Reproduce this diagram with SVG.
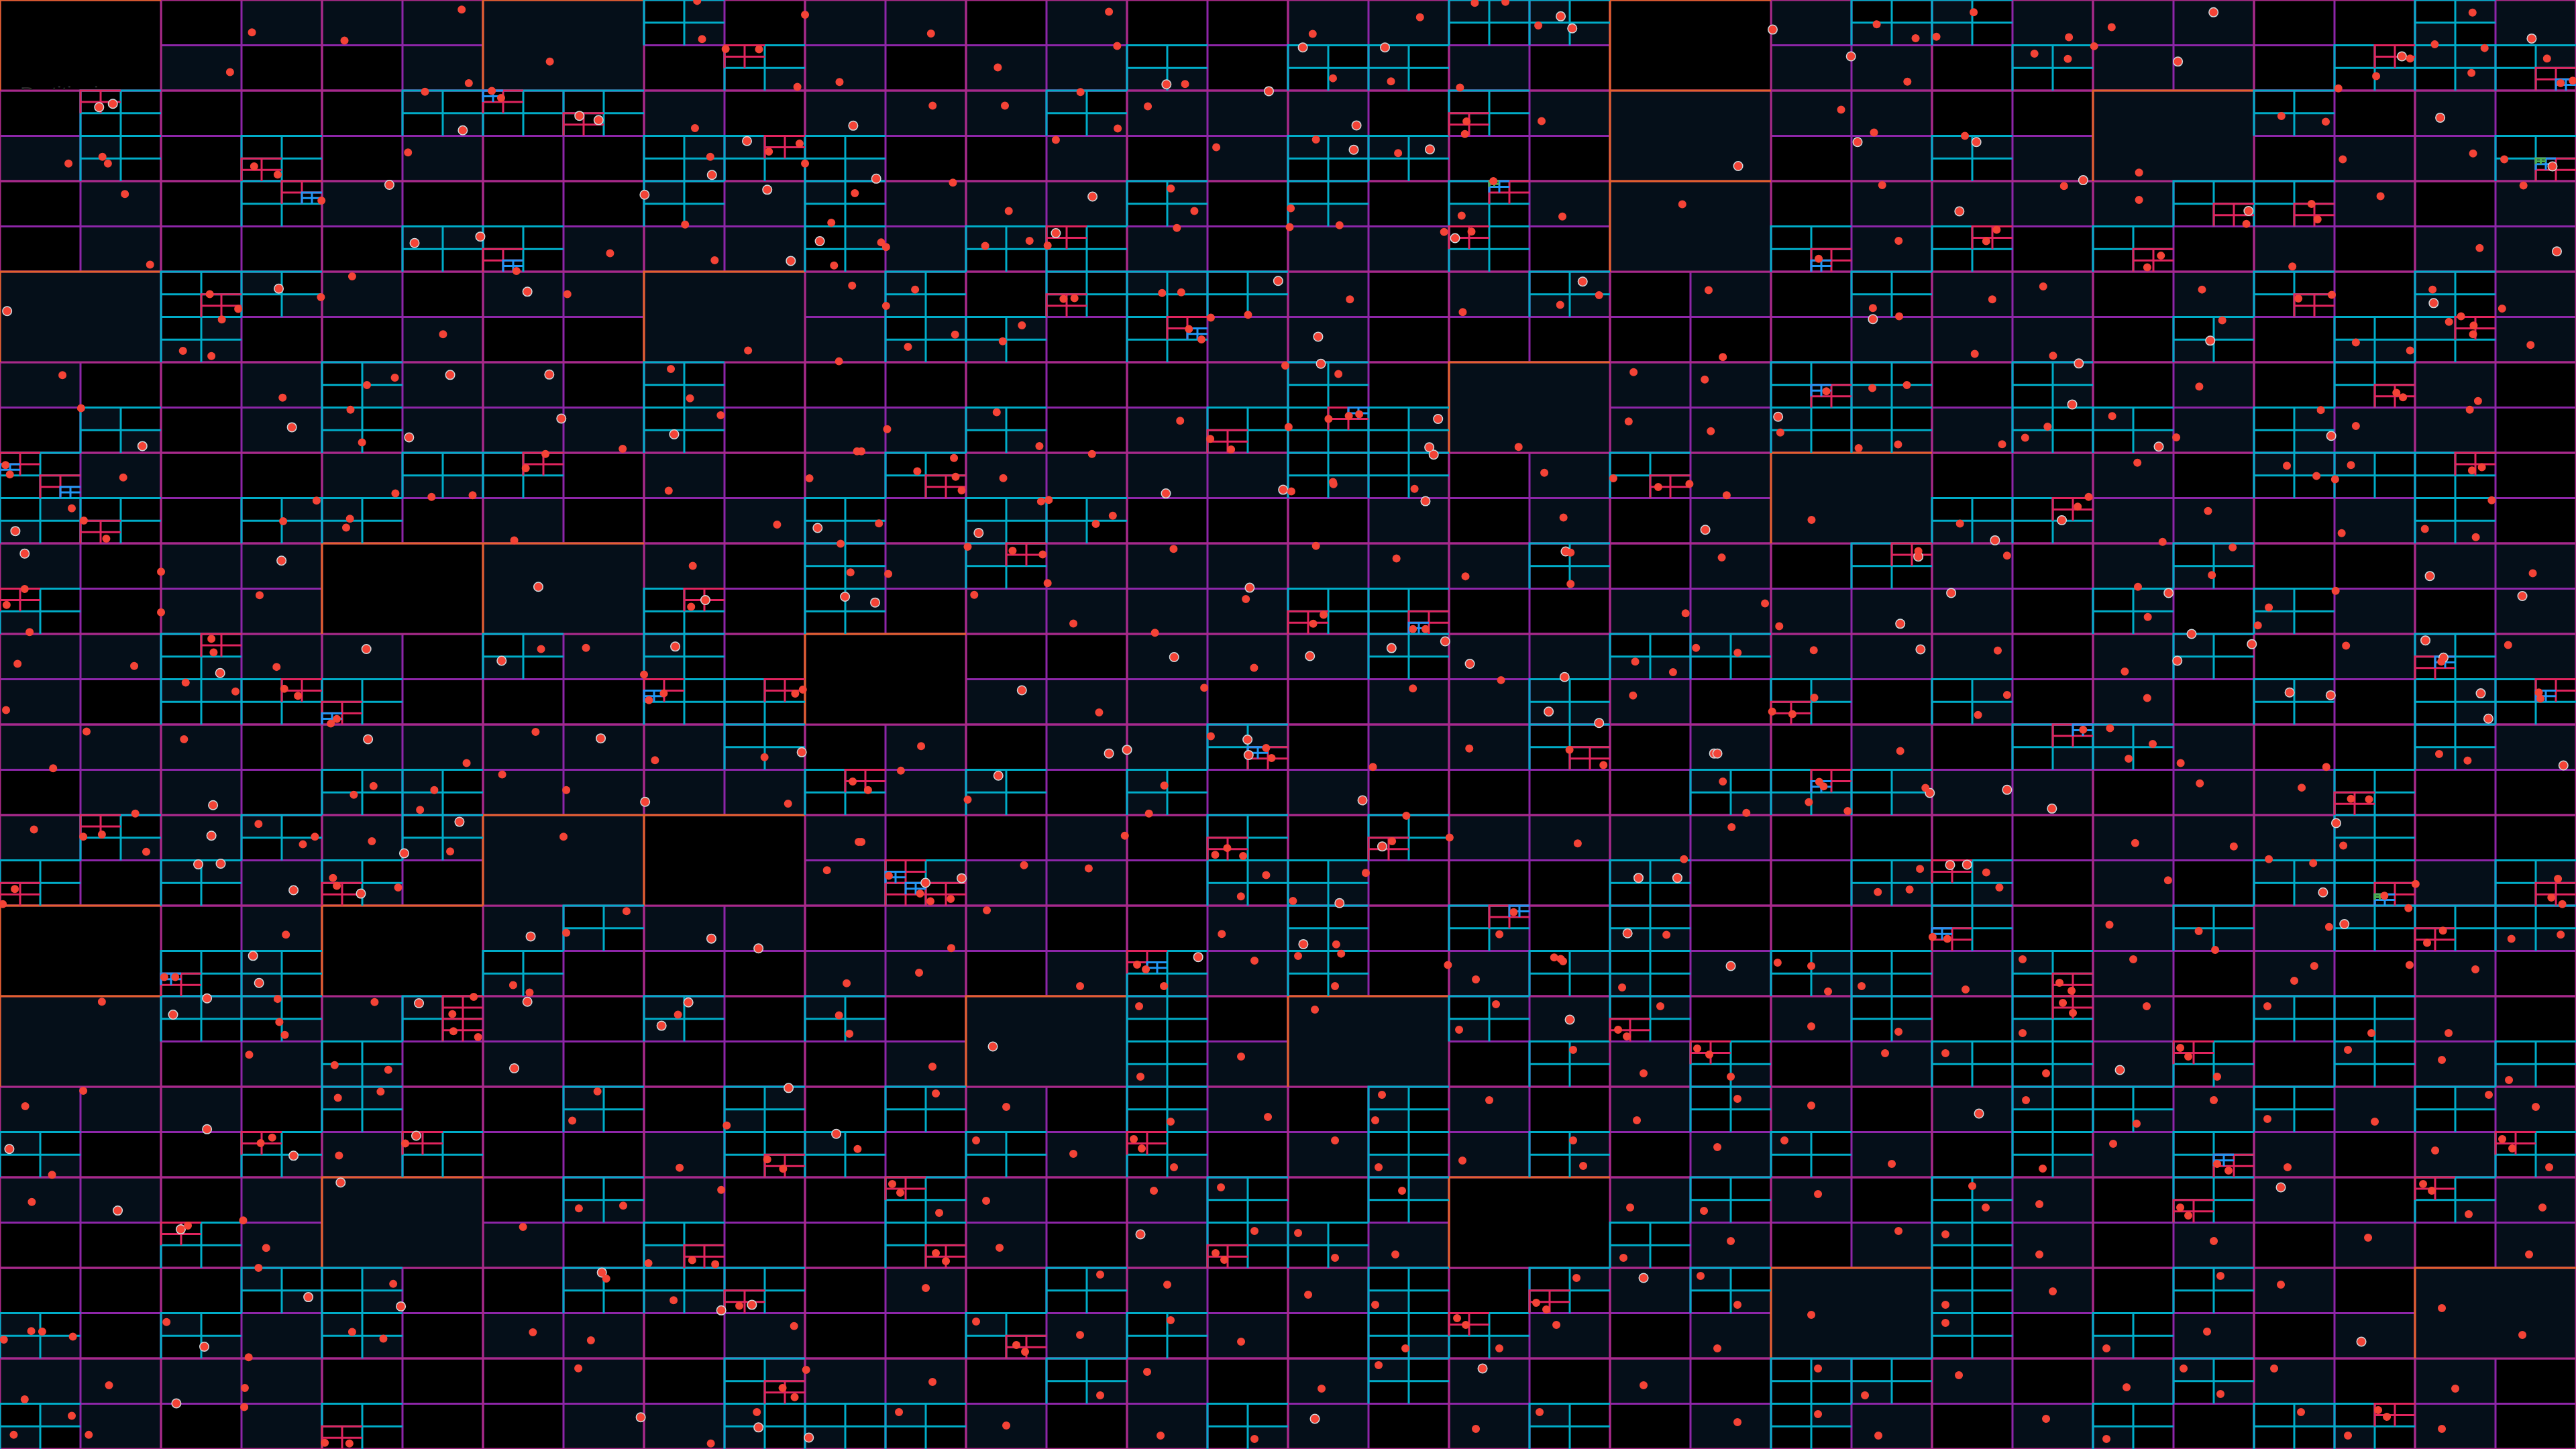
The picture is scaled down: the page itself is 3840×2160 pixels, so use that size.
<svg xmlns="http://www.w3.org/2000/svg" width="3840" height="2160" viewBox="0 0 3840 2160">
<defs>
<style>
.nv{fill:#050f19;stroke:none}
.bk{fill:#000;stroke:none}
.ln{fill:none;stroke-width:3;vector-effect:non-scaling-stroke}
.l2{stroke:#8d26a8}
.l1{stroke:#a92a87}
.lo{stroke:#e2612c}
.l3{stroke:#00acc8}
.l4{stroke:#e0245e}
.l5{stroke:#2196f3}
.l6{stroke:#4caf50}
.d{fill:none;stroke:#f44336;stroke-width:12;stroke-linecap:round;vector-effect:non-scaling-stroke}
.w{fill:none;stroke:#cfd8dc;stroke-width:15;stroke-linecap:round;vector-effect:non-scaling-stroke}
</style>
<clipPath id="tc"><rect x="0" y="0" width="300" height="134"/></clipPath>
</defs>
<rect width="3840" height="2160" fill="#000"/>
<g id="quadtree" transform="scale(120 67.5)">
<path id="leaf-fill" class="nv" d="M3 0h3v1h-3zM10 0h2v1h-2zM13 0h1v1h-1zM16 0h2v1h-2zM22 0h1v1h-1zM25 0h3v1h-3zM31 0h1v1h-1zM2 1h1v1h-1zM5 1h1v1h-1zM10 1h1v1h-1zM12 1h2v1h-2zM18 1h1v1h-1zM22 1h2v1h-2zM26 1h2v1h-2zM8 2h1v1h-1zM10 2h3v1h-3zM14 2h3v1h-3zM19 2h1v1h-1zM22 2h2v1h-2zM30 2h1v1h-1zM0 3h1v1h-1zM5 3h1v1h-1zM13 3h1v1h-1zM15 3h1v1h-1zM23 3h1v1h-1zM25 3h1v1h-1zM29 3h2v1h-2zM1 4h1v1h-1zM4 4h1v1h-1zM9 4h1v1h-1zM11 4h3v1h-3zM19 4h1v1h-1zM23 4h4v1h-4zM29 4h1v1h-1zM31 4h1v1h-1zM1 5h1v1h-1zM7 5h3v1h-3zM11 5h1v1h-1zM14 5h1v1h-1zM16 5h2v1h-2zM23 5h1v1h-1zM28 5h1v1h-1zM30 5h2v1h-2zM4 6h1v1h-1zM6 6h2v1h-2zM10 6h1v1h-1zM16 6h1v1h-1zM18 6h1v1h-1zM21 6h1v1h-1zM24 6h2v1h-2zM27 6h1v1h-1zM31 6h1v1h-1zM5 7h1v1h-1zM10 7h1v1h-1zM15 7h2v1h-2zM23 7h3v1h-3zM31 7h1v1h-1zM0 8h1v1h-1zM3 8h1v1h-1zM5 8h2v1h-2zM15 8h1v1h-1zM20 8h2v1h-2zM27 8h1v1h-1zM30 8h1v1h-1zM3 9h1v1h-1zM5 9h3v1h-3zM10 9h2v1h-2zM14 9h1v1h-1zM20 9h2v1h-2zM24 9h1v1h-1zM27 9h1v1h-1zM29 9h2v1h-2zM1 10h1v1h-1zM4 10h1v1h-1zM8 10h1v1h-1zM10 10h1v1h-1zM12 10h4v1h-4zM19 10h1v1h-1zM21 10h1v1h-1zM25 10h2v1h-2zM6 11h1v1h-1zM9 11h1v1h-1zM17 11h1v1h-1zM19 11h1v1h-1zM21 11h1v1h-1zM26 11h2v1h-2zM29 11h1v1h-1zM0 12h1v1h-1zM2 12h2v1h-2zM8 12h1v1h-1zM11 12h1v1h-1zM13 12h6v1h-6zM21 12h1v1h-1zM24 12h1v1h-1zM26 12h1v1h-1zM30 12h2v1h-2zM2 13h2v1h-2zM12 13h4v1h-4zM20 13h5v1h-5zM29 13h1v1h-1zM31 13h1v1h-1zM0 14h2v1h-2zM3 14h2v1h-2zM7 14h1v1h-1zM14 14h3v1h-3zM18 14h2v1h-2zM22 14h3v1h-3zM26 14h1v1h-1zM29 14h1v1h-1zM31 14h1v1h-1zM0 15h1v1h-1zM12 15h3v1h-3zM17 15h2v1h-2zM20 15h1v1h-1zM26 15h1v1h-1zM0 16h3v1h-3zM4 16h5v1h-5zM11 16h1v1h-1zM13 16h2v1h-2zM17 16h2v1h-2zM21 16h1v1h-1zM23 16h1v1h-1zM27 16h1v1h-1zM31 16h1v1h-1zM1 17h2v1h-2zM6 17h4v1h-4zM11 17h1v1h-1zM16 17h1v1h-1zM24 17h2v1h-2zM27 17h2v1h-2zM0 18h1v1h-1zM2 18h1v1h-1zM4 18h1v1h-1zM10 18h1v1h-1zM13 18h1v1h-1zM18 18h4v1h-4zM26 18h3v1h-3zM3 19h1v1h-1zM10 19h1v1h-1zM12 19h2v1h-2zM26 19h1v1h-1zM30 19h1v1h-1zM3 20h1v1h-1zM6 20h1v1h-1zM8 20h2v1h-2zM11 20h2v1h-2zM15 20h1v1h-1zM26 20h1v1h-1zM28 20h1v1h-1zM10 21h1v1h-1zM4 22h1v1h-1zM6 22h1v1h-1zM3 23h1v1h-1zM6 23h1v1h-1zM0 24h3v1h-3zM4 25h1v1h-1zM8 25h1v1h-1zM0 26h2v1h-2zM3 26h1v1h-1zM8 26h1v1h-1zM3 27h1v1h-1zM6 27h1v1h-1zM3 29h1v1h-1zM6 29h2v1h-2zM9 29h1v1h-1zM0 30h4v1h-4zM7 30h1v1h-1zM10 30h1v1h-1zM1 31h1v1h-1zM3 31h1v1h-1zM7 31h2v1h-2zM11 21h1v1h-1zM13 21h1v1h-1zM15 21h1v1h-1zM18 21h1v1h-1zM21 21h1v1h-1zM24 21h1v1h-1zM26 21h1v1h-1zM28 21h1v1h-1zM30 21h1v1h-1zM19 22h1v1h-1zM22 22h1v1h-1zM26 22h1v1h-1zM30 22h1v1h-1zM11 23h1v1h-1zM15 23h1v1h-1zM20 23h1v1h-1zM23 23h1v1h-1zM26 23h1v1h-1zM30 23h1v1h-1zM12 24h1v1h-1zM15 24h1v1h-1zM18 24h1v1h-1zM20 24h1v1h-1zM22 24h1v1h-1zM24 24h1v1h-1zM27 24h1v1h-1zM29 24h1v1h-1zM31 24h1v1h-1zM13 25h1v1h-1zM16 25h1v1h-1zM18 25h1v1h-1zM21 25h1v1h-1zM23 25h1v1h-1zM26 25h1v1h-1zM28 25h1v1h-1zM30 25h1v1h-1zM12 26h1v1h-1zM14 26h1v1h-1zM20 26h1v1h-1zM22 26h1v1h-1zM25 26h1v1h-1zM28 26h1v1h-1zM31 26h1v1h-1zM12 27h1v1h-1zM14 27h1v1h-1zM17 27h1v1h-1zM21 27h1v1h-1zM23 27h1v1h-1zM25 27h1v1h-1zM27 27h1v1h-1zM29 27h1v1h-1zM31 27h1v1h-1zM11 28h1v1h-1zM14 28h1v1h-1zM16 28h1v1h-1zM20 28h1v1h-1zM25 28h1v1h-1zM28 28h1v1h-1zM13 29h1v1h-1zM15 29h1v1h-1zM19 29h1v1h-1zM21 29h1v1h-1zM27 29h1v1h-1zM29 29h1v1h-1zM11 30h1v1h-1zM14 30h1v1h-1zM16 30h1v1h-1zM18 30h1v1h-1zM20 30h1v1h-1zM24 30h1v1h-1zM26 30h1v1h-1zM28 30h1v1h-1zM30 30h1v1h-1zM12 31h1v1h-1zM14 31h1v1h-1zM16 31h1v1h-1zM18 31h1v1h-1zM21 31h1v1h-1zM23 31h1v1h-1zM25 31h1v1h-1zM30 31h1v1h-1z"/>
<path id="sub-fill" class="nv" d="M8.5 0h.5v.5h-.5zM8.5 .5h.5v.5h-.5zM18 0h.5v.5h-.5zM18.5 0h.5v.5h-.5zM19 0h.5v.5h-.5zM19 .5h.5v.5h-.5zM19.5 .5h.5v.5h-.5zM23 .5h.5v.5h-.5zM23.5 .5h.5v.5h-.5zM24 0h.5v.5h-.5zM24 .5h.5v.5h-.5zM30.5 0h.5v.5h-.5zM30 .5h.5v.5h-.5zM9.5 1.5h.5v.5h-.5zM14 1.5h.5v.5h-.5zM14.5 1.5h.5v.5h-.5zM16 1h.5v.5h-.5zM16.5 1.5h.5v.5h-.5zM17 1h.5v.5h-.5zM17 1.5h.5v.5h-.5zM25 1h.5v.5h-.5zM25.5 1h.5v.5h-.5zM29.5 1.5h.5v.5h-.5zM30 1h.5v.5h-.5zM30.5 1h.5v.5h-.5zM30.5 1.5h.5v.5h-.5zM31.5 1h.5v.5h-.5zM5 2h.5v.5h-.5zM5.5 2.5h.5v.5h-.5zM13 2h.5v.5h-.5zM13.5 2.5h.5v.5h-.5zM28 2.5h.5v.5h-.5zM28.5 2.5h.5v.5h-.5zM1 3h.5v.5h-.5zM1 3.5h.5v.5h-.5zM8.5 3h.5v.5h-.5zM8.5 3.5h.5v.5h-.5zM9 3h.5v.5h-.5zM10.5 3.5h.5v.5h-.5zM16 3h.5v.5h-.5zM16.5 3h.5v.5h-.5zM17 3h.5v.5h-.5zM17.5 3h.5v.5h-.5zM24 3h.5v.5h-.5zM24.5 3h.5v.5h-.5zM31 3.5h.5v.5h-.5zM8 4h.5v.5h-.5zM8.5 4.5h.5v.5h-.5zM10 4h.5v.5h-.5zM14.5 4h.5v.5h-.5zM14.5 4.5h.5v.5h-.5zM16 4.5h.5v.5h-.5zM16.5 4.5h.5v.5h-.5zM18 4.5h.5v.5h-.5zM5 5h.5v.5h-.5zM5.5 5h.5v.5h-.5zM10.5 5h.5v.5h-.5zM12 5h.5v.5h-.5zM12.5 5h.5v.5h-.5zM18 5.5h.5v.5h-.5zM3 6h.5v.5h-.5zM3.5 6.5h.5v.5h-.5zM11 6h.5v.5h-.5zM11 6.5h.5v.5h-.5zM14 6h.5v.5h-.5zM14.5 6h.5v.5h-.5zM15.5 6h.5v.5h-.5zM15.5 6.5h.5v.5h-.5zM19.5 6h.5v.5h-.5zM19 6.5h.5v.5h-.5zM19.5 6.5h.5v.5h-.5zM23 6.5h.5v.5h-.5zM30 6h.5v.5h-.5zM30 6.5h.5v.5h-.5zM2.5 7h.5v.5h-.5zM2 7.5h.5v.5h-.5zM2.5 7.5h.5v.5h-.5zM11.5 7h.5v.5h-.5zM11 7.5h.5v.5h-.5zM12.5 7h.5v.5h-.5zM12 7.5h.5v.5h-.5zM27.5 7h.5v.5h-.5zM27 7.5h.5v.5h-.5zM29 7.5h.5v.5h-.5zM29.5 7.5h.5v.5h-.5zM30 7h.5v.5h-.5zM4.5 8h.5v.5h-.5zM4.5 8.5h.5v.5h-.5zM8 8h.5v.5h-.5zM8.5 8.5h.5v.5h-.5zM16 8h.5v.5h-.5zM16.5 8h.5v.5h-.5zM23 8.5h.5v.5h-.5zM23.5 8.5h.5v.5h-.5zM25.5 8h.5v.5h-.5zM25.5 8.5h.5v.5h-.5zM1 9h.5v.5h-.5zM1.5 9.5h.5v.5h-.5zM4 9h.5v.5h-.5zM4 9.5h.5v.5h-.5zM8.5 9h.5v.5h-.5zM8 9.5h.5v.5h-.5zM12 9h.5v.5h-.5zM12.5 9.5h.5v.5h-.5zM17.5 9h.5v.5h-.5zM17.5 9.5h.5v.5h-.5zM22 9h.5v.5h-.5zM22 9.5h.5v.5h-.5zM23 9.5h.5v.5h-.5zM23.5 9.5h.5v.5h-.5zM25 9h.5v.5h-.5zM25 9.5h.5v.5h-.5zM26 9h.5v.5h-.5zM26.5 9.5h.5v.5h-.5zM28.5 9h.5v.5h-.5zM28.5 9.5h.5v.5h-.5zM5 10.5h.5v.5h-.5zM5.5 10.5h.5v.5h-.5zM16.5 10.5h.5v.5h-.5zM17.5 10.5h.5v.5h-.5zM28 10h.5v.5h-.5zM28.5 10h.5v.5h-.5zM29 10h.5v.5h-.5zM.5 11h.5v.5h-.5zM0 11.5h.5v.5h-.5zM3.5 11h.5v.5h-.5zM3.5 11.5h.5v.5h-.5zM4 11h.5v.5h-.5zM4 11.5h.5v.5h-.5zM10 11.5h.5v.5h-.5zM10.5 11.5h.5v.5h-.5zM12.5 11h.5v.5h-.5zM12 11.5h.5v.5h-.5zM13.5 11h.5v.5h-.5zM13 11.5h.5v.5h-.5zM24 11.5h.5v.5h-.5zM24.5 11.5h.5v.5h-.5zM25.5 11.5h.5v.5h-.5zM30 11.5h.5v.5h-.5zM30.5 11.5h.5v.5h-.5zM10 12h.5v.5h-.5zM10.5 12.5h.5v.5h-.5zM12 12h.5v.5h-.5zM19.5 12h.5v.5h-.5zM19.5 12.5h.5v.5h-.5zM27.5 12h.5v.5h-.5zM27 12.5h.5v.5h-.5zM0 13.5h.5v.5h-.5zM10.5 13h.5v.5h-.5zM26.5 13h.5v.5h-.5zM26.5 13.5h.5v.5h-.5zM28 13h.5v.5h-.5zM28 13.5h.5v.5h-.5zM2.5 14.5h.5v.5h-.5zM6.5 14h.5v.5h-.5zM6 14.5h.5v.5h-.5zM8 14h.5v.5h-.5zM8 14.5h.5v.5h-.5zM17 14h.5v.5h-.5zM17.5 14h.5v.5h-.5zM20 14.5h.5v.5h-.5zM20.5 14.5h.5v.5h-.5zM21 14h.5v.5h-.5zM21.5 14h.5v.5h-.5zM27 14h.5v.5h-.5zM27 14.5h.5v.5h-.5zM30 14h.5v.5h-.5zM2 15h.5v.5h-.5zM2.5 15h.5v.5h-.5zM19 15h.5v.5h-.5zM19 15.5h.5v.5h-.5zM19.5 15.5h.5v.5h-.5zM22.5 15h.5v.5h-.5zM24.5 15h.5v.5h-.5zM24.5 15.5h.5v.5h-.5zM28 15h.5v.5h-.5zM28.5 15h.5v.5h-.5zM30.5 15h.5v.5h-.5zM30.5 15.5h.5v.5h-.5zM9 16.5h.5v.5h-.5zM9.5 16.5h.5v.5h-.5zM15 16h.5v.5h-.5zM15.5 16h.5v.5h-.5zM25.5 16.5h.5v.5h-.5zM26 16h.5v.5h-.5zM26.5 16h.5v.5h-.5zM26 16.5h.5v.5h-.5zM30 16.5h.5v.5h-.5zM30.5 16.5h.5v.5h-.5zM4.5 17h.5v.5h-.5zM4 17.5h.5v.5h-.5zM5 17h.5v.5h-.5zM5 17.5h.5v.5h-.5zM12 17h.5v.5h-.5zM12 17.5h.5v.5h-.5zM14 17h.5v.5h-.5zM14 17.5h.5v.5h-.5zM21 17h.5v.5h-.5zM21.5 17.5h.5v.5h-.5zM22 17.5h.5v.5h-.5zM22.5 17.5h.5v.5h-.5zM23.5 17h.5v.5h-.5zM23.5 17.5h.5v.5h-.5zM1.5 18.5h.5v.5h-.5zM3 18h.5v.5h-.5zM3.5 18.5h.5v.5h-.5zM5.5 18h.5v.5h-.5zM5 18.5h.5v.5h-.5zM5.5 18.5h.5v.5h-.5zM29 18h.5v.5h-.5zM29 18.5h.5v.5h-.5zM2 19h.5v.5h-.5zM2.5 19h.5v.5h-.5zM4 19h.5v.5h-.5zM4.5 19.5h.5v.5h-.5zM11.5 19h.5v.5h-.5zM15.5 19h.5v.5h-.5zM15 19.5h.5v.5h-.5zM16.5 19h.5v.5h-.5zM16 19.5h.5v.5h-.5zM16.5 19.5h.5v.5h-.5zM20 19h.5v.5h-.5zM20.5 19h.5v.5h-.5zM23.5 19h.5v.5h-.5zM23 19.5h.5v.5h-.5zM23.5 19.5h.5v.5h-.5zM24.5 19h.5v.5h-.5zM24.5 19.5h.5v.5h-.5zM28 19h.5v.5h-.5zM28.5 19h.5v.5h-.5zM28.5 19.5h.5v.5h-.5zM31.5 19h.5v.5h-.5zM7.5 20h.5v.5h-.5zM7 20.5h.5v.5h-.5zM16 20.5h.5v.5h-.5zM16.5 20.5h.5v.5h-.5zM18.5 20.5h.5v.5h-.5zM20 20.5h.5v.5h-.5zM20.5 20.5h.5v.5h-.5zM27 20.5h.5v.5h-.5zM27.5 20.5h.5v.5h-.5zM29 20h.5v.5h-.5zM31 20.5h.5v.5h-.5zM31.5 20.5h.5v.5h-.5zM3 21h.5v.5h-.5zM3 21.5h.5v.5h-.5zM6 21.5h.5v.5h-.5zM6.5 21.5h.5v.5h-.5zM2 22h.5v.5h-.5zM2.5 22h.5v.5h-.5zM3 22h.5v.5h-.5zM3.5 22.5h.5v.5h-.5zM5 22h.5v.5h-.5zM8 22h.5v.5h-.5zM8.5 22h.5v.5h-.5zM8 22.5h.5v.5h-.5zM10 22h.5v.5h-.5zM10.5 22.5h.5v.5h-.5zM4 23.5h.5v.5h-.5zM4.5 23.5h.5v.5h-.5zM4 24h.5v.5h-.5zM4.5 24h.5v.5h-.5zM7 24h.5v.5h-.5zM7 24.5h.5v.5h-.5zM9.5 24h.5v.5h-.5zM9 24.5h.5v.5h-.5zM0 25h.5v.5h-.5zM.5 25.5h.5v.5h-.5zM3.5 25.5h.5v.5h-.5zM10 25h.5v.5h-.5zM7 26.5h.5v.5h-.5zM7.5 26.5h.5v.5h-.5zM8 27.5h.5v.5h-.5zM3 28h.5v.5h-.5zM3.5 28.5h.5v.5h-.5zM4.5 28h.5v.5h-.5zM4.5 28.5h.5v.5h-.5zM7 28h.5v.5h-.5zM8 28.5h.5v.5h-.5zM8.5 28.5h.5v.5h-.5zM0 29h.5v.5h-.5zM0 29.5h.5v.5h-.5zM.5 29.5h.5v.5h-.5zM2 29h.5v.5h-.5zM2.5 29.5h.5v.5h-.5zM4 29h.5v.5h-.5zM4.5 29.5h.5v.5h-.5zM9.5 30h.5v.5h-.5zM.5 31h.5v.5h-.5zM0 31.5h.5v.5h-.5zM9 31h.5v.5h-.5zM9 31.5h.5v.5h-.5zM10 31.5h.5v.5h-.5zM14.5 21.5h.5v.5h-.5zM16 21h.5v.5h-.5zM16.5 21.5h.5v.5h-.5zM19.5 21h.5v.5h-.5zM20 21.5h.5v.5h-.5zM22.5 21h.5v.5h-.5zM22.5 21.5h.5v.5h-.5zM23 21.5h.5v.5h-.5zM25 21h.5v.5h-.5zM14 22h.5v.5h-.5zM18.5 22h.5v.5h-.5zM18 22.5h.5v.5h-.5zM20.5 22h.5v.5h-.5zM23.5 22.5h.5v.5h-.5zM25 22.5h.5v.5h-.5zM28 22h.5v.5h-.5zM29.5 22.5h.5v.5h-.5zM14 23.5h.5v.5h-.5zM19.5 23h.5v.5h-.5zM21.5 23.5h.5v.5h-.5zM24 23h.5v.5h-.5zM25.5 23.5h.5v.5h-.5zM27.5 23.5h.5v.5h-.5zM29 23h.5v.5h-.5zM31 23.5h.5v.5h-.5zM11.5 24h.5v.5h-.5zM14.5 24.5h.5v.5h-.5zM17 24h.5v.5h-.5zM17 24.5h.5v.5h-.5zM21.5 24h.5v.5h-.5zM25 24h.5v.5h-.5zM26.5 24.5h.5v.5h-.5zM28 24.5h.5v.5h-.5zM30.5 24h.5v.5h-.5zM12 25h.5v.5h-.5zM14.5 25.5h.5v.5h-.5zM17 25.5h.5v.5h-.5zM19.5 25h.5v.5h-.5zM19.5 25.5h.5v.5h-.5zM22 25h.5v.5h-.5zM25.5 25.5h.5v.5h-.5zM31.5 25.5h.5v.5h-.5zM11.5 26.5h.5v.5h-.5zM15 26h.5v.5h-.5zM17.5 26h.5v.5h-.5zM21 26.5h.5v.5h-.5zM24.5 26h.5v.5h-.5zM24.5 26.5h.5v.5h-.5zM30.5 26.5h.5v.5h-.5zM15.5 27h.5v.5h-.5zM16 27h.5v.5h-.5zM16.5 27.5h.5v.5h-.5zM20 27.5h.5v.5h-.5zM24 27h.5v.5h-.5zM13.5 28h.5v.5h-.5zM17 28.5h.5v.5h-.5zM19.5 28h.5v.5h-.5zM21 28h.5v.5h-.5zM21.5 28.5h.5v.5h-.5zM24 28.5h.5v.5h-.5zM27.5 28h.5v.5h-.5zM12 29h.5v.5h-.5zM14.5 29h.5v.5h-.5zM17.5 29.5h.5v.5h-.5zM18.5 29.5h.5v.5h-.5zM24 29h.5v.5h-.5zM26 29.5h.5v.5h-.5zM13.5 30.5h.5v.5h-.5zM17 30h.5v.5h-.5zM22.5 30h.5v.5h-.5zM23 30.5h.5v.5h-.5zM27 30h.5v.5h-.5zM27.5 30.5h.5v.5h-.5zM11 31h.5v.5h-.5zM15.5 31.5h.5v.5h-.5zM19 31h.5v.5h-.5zM22.5 31h.5v.5h-.5zM26 31.5h.5v.5h-.5zM28.5 31h.5v.5h-.5zM29 31.5h.5v.5h-.5z"/>
<path id="grid-depth2" class="ln l2" d="M1 0v32m1-32v32m1-32v32m1-32v32m1-32v32m1-32v32m1-32v32m1-32v32m1-32v32m1-32v32m1-32v32m1-32v32m1-32v32m1-32v32m1-32v32m1-32v32m1-32v32m1-32v32m1-32v32m1-32v32m1-32v32m1-32v32m1-32v32m1-32v32m1-32v32m1-32v32m1-32v32m1-32v32m1-32v32m1-32v32m1-32v32M0 1h32m-32 1h32m-32 1h32m-32 1h32m-32 1h32m-32 1h32m-32 1h32m-32 1h32m-32 1h32m-32 1h32m-32 1h32m-32 1h32m-32 1h32m-32 1h32m-32 1h32m-32 1h32m-32 1h32m-32 1h32m-32 1h32m-32 1h32m-32 1h32m-32 1h32m-32 1h32m-32 1h32m-32 1h32m-32 1h32m-32 1h32m-32 1h32m-32 1h32m-32 1h32m-32 1h32"/>
<path id="leaf1-navy" class="nv" d="M6 0h2v2h-2zM20 2h2v2h-2zM26 2h2v2h-2zM20 4h2v2h-2zM0 6h2v2h-2zM8 6h2v2h-2zM18 8h2v2h-2zM22 10h2v2h-2zM6 12h2v2h-2zM6 18h2v2h-2zM0 22h2v2h-2zM4 26h2v2h-2zM12 22h2v2h-2zM16 22h2v2h-2zM22 28h2v2h-2zM30 28h2v2h-2z"/>
<path id="leaf1-black" class="bk" d="M0 0h2v2h-2zM20 0h2v2h-2zM4 12h2v2h-2zM10 14h2v2h-2zM8 18h2v2h-2zM0 20h2v2h-2zM4 20h2v2h-2zM18 26h2v2h-2z"/>
<path id="grid-depth1" class="ln l1" d="M0 0v32m2-32v32m2-32v32m2-32v32m2-32v32m2-32v32m2-32v32m2-32v32m2-32v32m2-32v32m2-32v32m2-32v32m2-32v32m2-32v32m2-32v32m2-32v32m2-32v32M0 0h32m-32 2h32m-32 2h32m-32 2h32m-32 2h32m-32 2h32m-32 2h32m-32 2h32m-32 2h32m-32 2h32m-32 2h32m-32 2h32m-32 2h32m-32 2h32m-32 2h32m-32 2h32m-32 2h32"/>
<path id="leaf1-edges" class="ln lo" d="M0 2V0h2M6 2V0h2M20 2V0h2M20 4V2h2M26 4V2h2M20 6V4h2M0 8V6h2M8 8V6h2M18 10V8h2M22 12V10h2M4 14V12h2M6 14V12h2M10 16V14h2M6 20V18h2M8 20V18h2M0 22V20h2M4 22V20h2M0 24V22h2M4 28V26h2M12 24V22h2M16 24V22h2M18 28V26h2M22 30V28h2M30 30V28h2"/>
<path id="split-depth3" class="ln l3" d="M8 1v-1h1m-.5 0v1m-.5-.5h1M18 1v-1h1m-.5 0v1m-.5-.5h1M19 1v-1h1m-.5 0v1m-.5-.5h1M23 1v-1h1m-.5 0v1m-.5-.5h1M24 1v-1h1m-.5 0v1m-.5-.5h1M30 1v-1h1m-.5 0v1m-.5-.5h1M9 2v-1h1m-.5 0v1m-.5-.5h1M14 2v-1h1m-.5 0v1m-.5-.5h1M16 2v-1h1m-.5 0v1m-.5-.5h1M17 2v-1h1m-.5 0v1m-.5-.5h1M25 2v-1h1m-.5 0v1m-.5-.5h1M29 2v-1h1m-.5 0v1m-.5-.5h1M30 2v-1h1m-.5 0v1m-.5-.5h1M31 2v-1h1m-.5 0v1m-.5-.5h1M1 3v-1h1m-.5 0v1m-.5-.5h1M5 3v-1h1m-.5 0v1m-.5-.5h1M6 3v-1h1m-.5 0v1m-.5-.5h1M7 3v-1h1m-.5 0v1m-.5-.5h1M13 3v-1h1m-.5 0v1m-.5-.5h1M18 3v-1h1m-.5 0v1m-.5-.5h1M28 3v-1h1m-.5 0v1m-.5-.5h1M1 4v-1h1m-.5 0v1m-.5-.5h1M3 4v-1h1m-.5 0v1m-.5-.5h1M8 4v-1h1m-.5 0v1m-.5-.5h1M9 4v-1h1m-.5 0v1m-.5-.5h1M10 4v-1h1m-.5 0v1m-.5-.5h1M16 4v-1h1m-.5 0v1m-.5-.5h1M17 4v-1h1m-.5 0v1m-.5-.5h1M24 4v-1h1m-.5 0v1m-.5-.5h1M31 4v-1h1m-.5 0v1m-.5-.5h1M3 5v-1h1m-.5 0v1m-.5-.5h1M8 5v-1h1m-.5 0v1m-.5-.5h1M10 5v-1h1m-.5 0v1m-.5-.5h1M14 5v-1h1m-.5 0v1m-.5-.5h1M16 5v-1h1m-.5 0v1m-.5-.5h1M18 5v-1h1m-.5 0v1m-.5-.5h1M27 5v-1h1m-.5 0v1m-.5-.5h1M28 5v-1h1m-.5 0v1m-.5-.5h1M5 6v-1h1m-.5 0v1m-.5-.5h1M6 6v-1h1m-.5 0v1m-.5-.5h1M10 6v-1h1m-.5 0v1m-.5-.5h1M12 6v-1h1m-.5 0v1m-.5-.5h1M13 6v-1h1m-.5 0v1m-.5-.5h1M18 6v-1h1m-.5 0v1m-.5-.5h1M22 6v-1h1m-.5 0v1m-.5-.5h1M24 6v-1h1m-.5 0v1m-.5-.5h1M26 6v-1h1m-.5 0v1m-.5-.5h1M2 7v-1h1m-.5 0v1m-.5-.5h1M3 7v-1h1m-.5 0v1m-.5-.5h1M11 7v-1h1m-.5 0v1m-.5-.5h1M13 7v-1h1m-.5 0v1m-.5-.5h1M14 7v-1h1m-.5 0v1m-.5-.5h1M15 7v-1h1m-.5 0v1m-.5-.5h1M19 7v-1h1m-.5 0v1m-.5-.5h1M23 7v-1h1m-.5 0v1m-.5-.5h1M28 7v-1h1m-.5 0v1m-.5-.5h1M30 7v-1h1m-.5 0v1m-.5-.5h1M2 8v-1h1m-.5 0v1m-.5-.5h1M11 8v-1h1m-.5 0v1m-.5-.5h1M12 8v-1h1m-.5 0v1m-.5-.5h1M14 8v-1h1m-.5 0v1m-.5-.5h1M27 8v-1h1m-.5 0v1m-.5-.5h1M29 8v-1h1m-.5 0v1m-.5-.5h1M30 8v-1h1m-.5 0v1m-.5-.5h1M4 9v-1h1m-.5 0v1m-.5-.5h1M8 9v-1h1m-.5 0v1m-.5-.5h1M16 9v-1h1m-.5 0v1m-.5-.5h1M22 9v-1h1m-.5 0v1m-.5-.5h1M23 9v-1h1m-.5 0v1m-.5-.5h1M25 9v-1h1m-.5 0v1m-.5-.5h1M29 9v-1h1m-.5 0v1m-.5-.5h1M1 10v-1h1m-.5 0v1m-.5-.5h1M4 10v-1h1m-.5 0v1m-.5-.5h1M8 10v-1h1m-.5 0v1m-.5-.5h1M12 10v-1h1m-.5 0v1m-.5-.5h1M15 10v-1h1m-.5 0v1m-.5-.5h1M16 10v-1h1m-.5 0v1m-.5-.5h1M17 10v-1h1m-.5 0v1m-.5-.5h1M22 10v-1h1m-.5 0v1m-.5-.5h1M23 10v-1h1m-.5 0v1m-.5-.5h1M25 10v-1h1m-.5 0v1m-.5-.5h1M26 10v-1h1m-.5 0v1m-.5-.5h1M28 10v-1h1m-.5 0v1m-.5-.5h1M0 11v-1h1m-.5 0v1m-.5-.5h1M5 11v-1h1m-.5 0v1m-.5-.5h1M6 11v-1h1m-.5 0v1m-.5-.5h1M11 11v-1h1m-.5 0v1m-.5-.5h1M16 11v-1h1m-.5 0v1m-.5-.5h1M17 11v-1h1m-.5 0v1m-.5-.5h1M20 11v-1h1m-.5 0v1m-.5-.5h1M28 11v-1h1m-.5 0v1m-.5-.5h1M29 11v-1h1m-.5 0v1m-.5-.5h1M30 11v-1h1m-.5 0v1m-.5-.5h1M0 12v-1h1m-.5 0v1m-.5-.5h1M1 12v-1h1m-.5 0v1m-.5-.5h1M3 12v-1h1m-.5 0v1m-.5-.5h1M4 12v-1h1m-.5 0v1m-.5-.5h1M10 12v-1h1m-.5 0v1m-.5-.5h1M12 12v-1h1m-.5 0v1m-.5-.5h1M13 12v-1h1m-.5 0v1m-.5-.5h1M24 12v-1h1m-.5 0v1m-.5-.5h1M25 12v-1h1m-.5 0v1m-.5-.5h1M30 12v-1h1m-.5 0v1m-.5-.5h1M10 13v-1h1m-.5 0v1m-.5-.5h1M12 13v-1h1m-.5 0v1m-.5-.5h1M19 13v-1h1m-.5 0v1m-.5-.5h1M23 13v-1h1m-.5 0v1m-.5-.5h1M27 13v-1h1m-.5 0v1m-.5-.5h1M0 14v-1h1m-.5 0v1m-.5-.5h1M8 14v-1h1m-.5 0v1m-.5-.5h1M10 14v-1h1m-.5 0v1m-.5-.5h1M16 14v-1h1m-.5 0v1m-.5-.5h1M17 14v-1h1m-.5 0v1m-.5-.5h1M26 14v-1h1m-.5 0v1m-.5-.5h1M28 14v-1h1m-.5 0v1m-.5-.5h1M2 15v-1h1m-.5 0v1m-.5-.5h1M6 15v-1h1m-.5 0v1m-.5-.5h1M8 15v-1h1m-.5 0v1m-.5-.5h1M17 15v-1h1m-.5 0v1m-.5-.5h1M20 15v-1h1m-.5 0v1m-.5-.5h1M21 15v-1h1m-.5 0v1m-.5-.5h1M27 15v-1h1m-.5 0v1m-.5-.5h1M30 15v-1h1m-.5 0v1m-.5-.5h1M2 16v-1h1m-.5 0v1m-.5-.5h1M3 16v-1h1m-.5 0v1m-.5-.5h1M4 16v-1h1m-.5 0v1m-.5-.5h1M8 16v-1h1m-.5 0v1m-.5-.5h1M9 16v-1h1m-.5 0v1m-.5-.5h1M19 16v-1h1m-.5 0v1m-.5-.5h1M22 16v-1h1m-.5 0v1m-.5-.5h1M24 16v-1h1m-.5 0v1m-.5-.5h1M28 16v-1h1m-.5 0v1m-.5-.5h1M30 16v-1h1m-.5 0v1m-.5-.5h1M31 16v-1h1m-.5 0v1m-.5-.5h1M9 17v-1h1m-.5 0v1m-.5-.5h1M15 17v-1h1m-.5 0v1m-.5-.5h1M19 17v-1h1m-.5 0v1m-.5-.5h1M25 17v-1h1m-.5 0v1m-.5-.5h1M26 17v-1h1m-.5 0v1m-.5-.5h1M30 17v-1h1m-.5 0v1m-.5-.5h1M4 18v-1h1m-.5 0v1m-.5-.5h1M5 18v-1h1m-.5 0v1m-.5-.5h1M10 18v-1h1m-.5 0v1m-.5-.5h1M12 18v-1h1m-.5 0v1m-.5-.5h1M14 18v-1h1m-.5 0v1m-.5-.5h1M21 18v-1h1m-.5 0v1m-.5-.5h1M22 18v-1h1m-.5 0v1m-.5-.5h1M23 18v-1h1m-.5 0v1m-.5-.5h1M29 18v-1h1m-.5 0v1m-.5-.5h1M1 19v-1h1m-.5 0v1m-.5-.5h1M3 19v-1h1m-.5 0v1m-.5-.5h1M5 19v-1h1m-.5 0v1m-.5-.5h1M15 19v-1h1m-.5 0v1m-.5-.5h1M17 19v-1h1m-.5 0v1m-.5-.5h1M29 19v-1h1m-.5 0v1m-.5-.5h1M0 20v-1h1m-.5 0v1m-.5-.5h1M2 20v-1h1m-.5 0v1m-.5-.5h1M4 20v-1h1m-.5 0v1m-.5-.5h1M11 20v-1h1m-.5 0v1m-.5-.5h1M15 20v-1h1m-.5 0v1m-.5-.5h1M16 20v-1h1m-.5 0v1m-.5-.5h1M20 20v-1h1m-.5 0v1m-.5-.5h1M23 20v-1h1m-.5 0v1m-.5-.5h1M24 20v-1h1m-.5 0v1m-.5-.5h1M28 20v-1h1m-.5 0v1m-.5-.5h1M29 20v-1h1m-.5 0v1m-.5-.5h1M31 20v-1h1m-.5 0v1m-.5-.5h1M7 21v-1h1m-.5 0v1m-.5-.5h1M16 21v-1h1m-.5 0v1m-.5-.5h1M18 21v-1h1m-.5 0v1m-.5-.5h1M20 21v-1h1m-.5 0v1m-.5-.5h1M24 21v-1h1m-.5 0v1m-.5-.5h1M27 21v-1h1m-.5 0v1m-.5-.5h1M29 21v-1h1m-.5 0v1m-.5-.5h1M30 21v-1h1m-.5 0v1m-.5-.5h1M31 21v-1h1m-.5 0v1m-.5-.5h1M2 22v-1h1m-.5 0v1m-.5-.5h1M3 22v-1h1m-.5 0v1m-.5-.5h1M6 22v-1h1m-.5 0v1m-.5-.5h1M2 23v-1h1m-.5 0v1m-.5-.5h1M3 23v-1h1m-.5 0v1m-.5-.5h1M5 23v-1h1m-.5 0v1m-.5-.5h1M8 23v-1h1m-.5 0v1m-.5-.5h1M10 23v-1h1m-.5 0v1m-.5-.5h1M4 24v-1h1m-.5 0v1m-.5-.5h1M4 25v-1h1m-.5 0v1m-.5-.5h1M7 25v-1h1m-.5 0v1m-.5-.5h1M9 25v-1h1m-.5 0v1m-.5-.5h1M0 26v-1h1m-.5 0v1m-.5-.5h1M3 26v-1h1m-.5 0v1m-.5-.5h1M5 26v-1h1m-.5 0v1m-.5-.5h1M9 26v-1h1m-.5 0v1m-.5-.5h1M10 26v-1h1m-.5 0v1m-.5-.5h1M7 27v-1h1m-.5 0v1m-.5-.5h1M2 28v-1h1m-.5 0v1m-.5-.5h1M8 28v-1h1m-.5 0v1m-.5-.5h1M3 29v-1h1m-.5 0v1m-.5-.5h1M4 29v-1h1m-.5 0v1m-.5-.5h1M7 29v-1h1m-.5 0v1m-.5-.5h1M8 29v-1h1m-.5 0v1m-.5-.5h1M9 29v-1h1m-.5 0v1m-.5-.5h1M0 30v-1h1m-.5 0v1m-.5-.5h1M2 30v-1h1m-.5 0v1m-.5-.5h1M4 30v-1h1m-.5 0v1m-.5-.5h1M9 31v-1h1m-.5 0v1m-.5-.5h1M0 32v-1h1m-.5 0v1m-.5-.5h1M4 32v-1h1m-.5 0v1m-.5-.5h1M9 32v-1h1m-.5 0v1m-.5-.5h1M10 32v-1h1m-.5 0v1m-.5-.5h1M14 22v-1h1m-.5 0v1m-.5-.5h1M16 22v-1h1m-.5 0v1m-.5-.5h1M19 22v-1h1m-.5 0v1m-.5-.5h1M20 22v-1h1m-.5 0v1m-.5-.5h1M22 22v-1h1m-.5 0v1m-.5-.5h1M23 22v-1h1m-.5 0v1m-.5-.5h1M25 22v-1h1m-.5 0v1m-.5-.5h1M14 23v-1h1m-.5 0v1m-.5-.5h1M18 23v-1h1m-.5 0v1m-.5-.5h1M20 23v-1h1m-.5 0v1m-.5-.5h1M23 23v-1h1m-.5 0v1m-.5-.5h1M25 23v-1h1m-.5 0v1m-.5-.5h1M28 23v-1h1m-.5 0v1m-.5-.5h1M29 23v-1h1m-.5 0v1m-.5-.5h1M14 24v-1h1m-.5 0v1m-.5-.5h1M19 24v-1h1m-.5 0v1m-.5-.5h1M21 24v-1h1m-.5 0v1m-.5-.5h1M24 24v-1h1m-.5 0v1m-.5-.5h1M25 24v-1h1m-.5 0v1m-.5-.5h1M27 24v-1h1m-.5 0v1m-.5-.5h1M29 24v-1h1m-.5 0v1m-.5-.5h1M31 24v-1h1m-.5 0v1m-.5-.5h1M11 25v-1h1m-.5 0v1m-.5-.5h1M14 25v-1h1m-.5 0v1m-.5-.5h1M17 25v-1h1m-.5 0v1m-.5-.5h1M21 25v-1h1m-.5 0v1m-.5-.5h1M25 25v-1h1m-.5 0v1m-.5-.5h1M26 25v-1h1m-.5 0v1m-.5-.5h1M28 25v-1h1m-.5 0v1m-.5-.5h1M30 25v-1h1m-.5 0v1m-.5-.5h1M12 26v-1h1m-.5 0v1m-.5-.5h1M14 26v-1h1m-.5 0v1m-.5-.5h1M17 26v-1h1m-.5 0v1m-.5-.5h1M19 26v-1h1m-.5 0v1m-.5-.5h1M22 26v-1h1m-.5 0v1m-.5-.5h1M25 26v-1h1m-.5 0v1m-.5-.5h1M27 26v-1h1m-.5 0v1m-.5-.5h1M31 26v-1h1m-.5 0v1m-.5-.5h1M11 27v-1h1m-.5 0v1m-.5-.5h1M15 27v-1h1m-.5 0v1m-.5-.5h1M17 27v-1h1m-.5 0v1m-.5-.5h1M21 27v-1h1m-.5 0v1m-.5-.5h1M24 27v-1h1m-.5 0v1m-.5-.5h1M27 27v-1h1m-.5 0v1m-.5-.5h1M30 27v-1h1m-.5 0v1m-.5-.5h1M11 28v-1h1m-.5 0v1m-.5-.5h1M15 28v-1h1m-.5 0v1m-.5-.5h1M16 28v-1h1m-.5 0v1m-.5-.5h1M20 28v-1h1m-.5 0v1m-.5-.5h1M24 28v-1h1m-.5 0v1m-.5-.5h1M13 29v-1h1m-.5 0v1m-.5-.5h1M17 29v-1h1m-.5 0v1m-.5-.5h1M19 29v-1h1m-.5 0v1m-.5-.5h1M21 29v-1h1m-.5 0v1m-.5-.5h1M24 29v-1h1m-.5 0v1m-.5-.5h1M27 29v-1h1m-.5 0v1m-.5-.5h1M12 30v-1h1m-.5 0v1m-.5-.5h1M14 30v-1h1m-.5 0v1m-.5-.5h1M17 30v-1h1m-.5 0v1m-.5-.5h1M18 30v-1h1m-.5 0v1m-.5-.5h1M24 30v-1h1m-.5 0v1m-.5-.5h1M26 30v-1h1m-.5 0v1m-.5-.5h1M13 31v-1h1m-.5 0v1m-.5-.5h1M17 31v-1h1m-.5 0v1m-.5-.5h1M22 31v-1h1m-.5 0v1m-.5-.5h1M23 31v-1h1m-.5 0v1m-.5-.5h1M27 31v-1h1m-.5 0v1m-.5-.5h1M11 32v-1h1m-.5 0v1m-.5-.5h1M15 32v-1h1m-.5 0v1m-.5-.5h1M19 32v-1h1m-.5 0v1m-.5-.5h1M22 32v-1h1m-.5 0v1m-.5-.5h1M26 32v-1h1m-.5 0v1m-.5-.5h1M28 32v-1h1m-.5 0v1m-.5-.5h1M29 32v-1h1m-.5 0v1m-.5-.5h1"/>
<path id="split-depth4" class="ln l4" d="M9 1.5v-.5h.5m-.25 0v.5m-.25-.25h.5M29.5 1.5v-.5h.5m-.25 0v.5m-.25-.25h.5M31.5 2v-.5h.5m-.25 0v.5m-.25-.25h.5M1 2.5v-.5h.5m-.25 0v.5m-.25-.25h.5M6 2.5v-.5h.5m-.25 0v.5m-.25-.25h.5M7 3v-.5h.5m-.25 0v.5m-.25-.25h.5M18 3v-.5h.5m-.25 0v.5m-.25-.25h.5M3 4v-.5h.5m-.25 0v.5m-.25-.25h.5M9.5 3.5v-.5h.5m-.25 0v.5m-.25-.25h.5M31.5 4v-.5h.5m-.25 0v.5m-.25-.25h.5M3.5 4.5v-.5h.5m-.25 0v.5m-.25-.25h.5M18.5 4.5v-.5h.5m-.25 0v.5m-.25-.25h.5M27.5 5v-.5h.5m-.25 0v.5m-.25-.25h.5M28.5 5v-.5h.5m-.25 0v.5m-.25-.25h.5M6 6v-.5h.5m-.25 0v.5m-.25-.25h.5M13 5.5v-.5h.5m-.25 0v.5m-.25-.25h.5M18 5.5v-.5h.5m-.25 0v.5m-.25-.25h.5M22.5 6v-.5h.5m-.25 0v.5m-.25-.25h.5M24.5 5.5v-.5h.5m-.25 0v.5m-.25-.25h.5M26.5 6v-.5h.5m-.25 0v.5m-.25-.25h.5M2.5 7v-.5h.5m-.25 0v.5m-.25-.25h.5M13 7v-.5h.5m-.25 0v.5m-.25-.25h.5M28.5 7v-.5h.5m-.25 0v.5m-.25-.25h.5M14.5 7.5v-.5h.5m-.25 0v.5m-.25-.25h.5M30.5 7.5v-.5h.5m-.25 0v.5m-.25-.25h.5M22.5 9v-.5h.5m-.25 0v.5m-.25-.25h.5M29.5 9v-.5h.5m-.25 0v.5m-.25-.25h.5M15 10v-.5h.5m-.25 0v.5m-.25-.25h.5M16.5 9.5v-.5h.5m-.25 0v.5m-.25-.25h.5M0 10.5v-.5h.5m-.25 0v.5m-.25-.25h.5M.5 11v-.5h.5m-.25 0v.5m-.25-.25h.5M6.5 10.5v-.5h.5m-.25 0v.5m-.25-.25h.5M11.5 11v-.5h.5m-.25 0v.5m-.25-.25h.5M20.5 11v-.5h.5m-.25 0v.5m-.25-.25h.5M30.5 10.5v-.5h.5m-.25 0v.5m-.25-.25h.5M1 12v-.5h.5m-.25 0v.5m-.25-.25h.5M25.5 11.5v-.5h.5m-.25 0v.5m-.25-.25h.5M12.5 12.5v-.5h.5m-.25 0v.5m-.25-.25h.5M23.5 12.5v-.5h.5m-.25 0v.5m-.25-.25h.5M0 13.5v-.5h.5m-.25 0v.5m-.25-.25h.5M8.5 13.5v-.5h.5m-.25 0v.5m-.25-.25h.5M16 14v-.5h.5m-.25 0v.5m-.25-.25h.5M17.5 14v-.5h.5m-.25 0v.5m-.25-.25h.5M2.5 14.5v-.5h.5m-.25 0v.5m-.25-.25h.5M30 15v-.5h.5m-.25 0v.5m-.25-.25h.5M3.5 15.5v-.5h.5m-.25 0v.5m-.25-.25h.5M4 16v-.5h.5m-.25 0v.5m-.25-.25h.5M8 15.5v-.5h.5m-.25 0v.5m-.25-.25h.5M9.5 15.5v-.5h.5m-.25 0v.5m-.25-.25h.5M22 16v-.5h.5m-.25 0v.5m-.25-.25h.5M31.5 15.5v-.5h.5m-.25 0v.5m-.25-.25h.5M15.5 17v-.5h.5m-.25 0v.5m-.25-.25h.5M19.5 17v-.5h.5m-.25 0v.5m-.25-.25h.5M25.5 16.5v-.5h.5m-.25 0v.5m-.25-.25h.5M10.5 17.5v-.5h.5m-.25 0v.5m-.25-.25h.5M22.5 17.5v-.5h.5m-.25 0v.5m-.25-.25h.5M29 18v-.5h.5m-.25 0v.5m-.25-.25h.5M1 18.5v-.5h.5m-.25 0v.5m-.25-.25h.5M15 19v-.5h.5m-.25 0v.5m-.25-.25h.5M17 19v-.5h.5m-.25 0v.5m-.25-.25h.5M0 20v-.5h.5m-.25 0v.5m-.25-.25h.5M4 20v-.5h.5m-.25 0v.5m-.25-.25h.5M11 19.5v-.5h.5m-.25 0v.5m-.25-.25h.5M11 20v-.5h.5m-.25 0v.5m-.25-.25h.5M11.5 20v-.5h.5m-.25 0v.5m-.25-.25h.5M24 19.5v-.5h.5m-.25 0v.5m-.25-.25h.5M29.5 20v-.5h.5m-.25 0v.5m-.25-.25h.5M31.5 20v-.5h.5m-.25 0v.5m-.25-.25h.5M18.5 20.5v-.5h.5m-.25 0v.5m-.25-.25h.5M24 21v-.5h.5m-.25 0v.5m-.25-.25h.5M30 21v-.5h.5m-.25 0v.5m-.25-.25h.5M2 22v-.5h.5m-.25 0v.5m-.25-.25h.5M5.5 22.5v-.5h.5m-.25 0v.5m-.25-.25h.5M5.5 23v-.5h.5m-.25 0v.5m-.25-.25h.5M3 25.5v-.5h.5m-.25 0v.5m-.25-.25h.5M5 25.5v-.5h.5m-.25 0v.5m-.25-.25h.5M9.5 26v-.5h.5m-.25 0v.5m-.25-.25h.5M2 27.5v-.5h.5m-.25 0v.5m-.25-.25h.5M8.5 28v-.5h.5m-.25 0v.5m-.25-.25h.5M9 29v-.5h.5m-.25 0v.5m-.25-.25h.5M9.5 31v-.5h.5m-.25 0v.5m-.25-.25h.5M4 32v-.5h.5m-.25 0v.5m-.25-.25h.5M14 21.5v-.5h.5m-.25 0v.5m-.25-.25h.5M25.5 22v-.5h.5m-.25 0v.5m-.25-.25h.5M20 23v-.5h.5m-.25 0v.5m-.25-.25h.5M25.5 22.5v-.5h.5m-.25 0v.5m-.25-.25h.5M21 23.5v-.5h.5m-.25 0v.5m-.25-.25h.5M27 23.5v-.5h.5m-.25 0v.5m-.25-.25h.5M14 25.5v-.5h.5m-.25 0v.5m-.25-.25h.5M27.5 26v-.5h.5m-.25 0v.5m-.25-.25h.5M31 25.5v-.5h.5m-.25 0v.5m-.25-.25h.5M11 26.5v-.5h.5m-.25 0v.5m-.25-.25h.5M27 27v-.5h.5m-.25 0v.5m-.25-.25h.5M30 26.5v-.5h.5m-.25 0v.5m-.25-.25h.5M11.5 28v-.5h.5m-.25 0v.5m-.25-.25h.5M15 28v-.5h.5m-.25 0v.5m-.25-.25h.5M19 29v-.5h.5m-.25 0v.5m-.25-.25h.5M12.5 30v-.5h.5m-.25 0v.5m-.25-.25h.5M18 29.5v-.5h.5m-.25 0v.5m-.25-.25h.5M29.5 31.5v-.5h.5m-.25 0v.5m-.25-.25h.5"/>
<path id="split-depth5" class="ln l5" d="M31.75 2v-.25h.25m-.125 0v.25m-.125-.125h.25M6 2.25v-.25h.25m-.125 0v.25m-.125-.125h.25M31.5 3.75v-.25h.25m-.125 0v.25m-.125-.125h.25M3.75 4.5v-.25h.25m-.125 0v.25m-.125-.125h.25M18.5 4.25v-.25h.25m-.125 0v.25m-.125-.125h.25M6.25 6v-.25h.25m-.125 0v.25m-.125-.125h.25M22.5 6v-.25h.25m-.125 0v.25m-.125-.125h.25M14.75 7.5v-.25h.25m-.125 0v.25m-.125-.125h.25M22.5 8.75v-.25h.25m-.125 0v.25m-.125-.125h.25M16.75 9.25v-.25h.25m-.125 0v.25m-.125-.125h.25M0 10.5v-.25h.25m-.125 0v.25m-.125-.125h.25M.75 11v-.25h.25m-.125 0v.25m-.125-.125h.25M17.5 14v-.25h.25m-.125 0v.25m-.125-.125h.25M30.25 14.75v-.25h.25m-.125 0v.25m-.125-.125h.25M4 16v-.25h.25m-.125 0v.25m-.125-.125h.25M8 15.5v-.25h.25m-.125 0v.25m-.125-.125h.25M31.5 15.5v-.25h.25m-.125 0v.25m-.125-.125h.25M15.5 16.75v-.25h.25m-.125 0v.25m-.125-.125h.25M25.75 16.25v-.25h.25m-.125 0v.25m-.125-.125h.25M22.5 17.5v-.25h.25m-.125 0v.25m-.125-.125h.25M11 19.5v-.25h.25m-.125 0v.25m-.125-.125h.25M11.25 19.75v-.25h.25m-.125 0v.25m-.125-.125h.25M29.5 20v-.25h.25m-.125 0v.25m-.125-.125h.25M18.75 20.25v-.25h.25m-.125 0v.25m-.125-.125h.25M24 20.75v-.25h.25m-.125 0v.25m-.125-.125h.25M2 21.75v-.25h.25m-.125 0v.25m-.125-.125h.25M14.25 21.5v-.25h.25m-.125 0v.25m-.125-.125h.25M27.5 25.75v-.25h.25m-.125 0v.25m-.125-.125h.25"/>
<path id="split-depth6" class="ln l6" d="M18.5 4.125v-.125h.125m-.0625 0v.125m-.0625-.0625h.125M31.5 3.625v-.125h.125m-.0625 0v.125m-.0625-.0625h.125M29.5 19.875v-.125h.125m-.0625 0v.125m-.0625-.0625h.125"/>
</g>
<text id="caption" x="30" y="150" clip-path="url(#tc)" font-family="Liberation Sans, Arial, sans-serif" font-size="30" fill="#2a2a2a">Partitioning</text>
<g id="points">
<g transform="translate(0 0) scale(.81633 .45918)">
<path class="w" d="M181 348h.1M206 337h.1M845 423h.1M1058 376h.1M1093 390h.1M1364 458h.1M1300 568h.1M1401 616h.1M1558 408h.1M877 768h.1M757 789h.1M1497 783h.1M1444 847h.1M509 937h.1M963 947h.1M13 1010h.1M822 1217h.1M1003 1216h.1M533 1387h.1M747 1420h.1M260 1448h.1M1025 1359h.1M1231 1410h.1M711 600h.1M1177 632h.1"/>
<path class="d" d="M460 105h.1M629 132h.1M843 31h.1M420 234h.1M856 270h.1M1004 200h.1M1273 3h.1M1282 127h.1M1325 159h.1M1386 160h.1M1456 282h.1M1470 48h.1M1533 266h.1M181 348h.1M206 337h.1M187 509h.1M197 531h.1M125 531h.1M464 540h.1M507 567h.1M776 298h.1M898 295h.1M915 318h.1M845 423h.1M1058 376h.1M1093 390h.1M1269 416h.1M1558 408h.1M745 495h.1M1364 458h.1M1297 509h.1M1300 568h.1M1404 492h.1M1460 466h.1M1470 531h.1M228 630h.1M587 651h.1M711 600h.1M1177 632h.1M1251 729h.1M1401 616h.1M1561 627h.1M1518 723h.1M274 859h.1M757 789h.1M877 768h.1M943 880h.1M1114 822h.1M1305 845h.1M1444 847h.1M1497 783h.1M1523 862h.1M13 1010h.1M383 955h.1M435 1003h.1M405 1037h.1M509 937h.1M586 965h.1M334 1139h.1M386 1156h.1M643 897h.1M809 1085h.1M963 947h.1M1036 955h.1M1366 1138h.1M1556 927h.1M1532 1173h.1M114 1218h.1M148 1325h.1M260 1448h.1M516 1291h.1M533 1387h.1M721 1226h.1M670 1250h.1M640 1330h.1M661 1436h.1M822 1217h.1M747 1420h.1M1003 1216h.1M1025 1359h.1M1137 1457h.1M1225 1198h.1M1260 1293h.1M1316 1348h.1M1231 1410h.1M1565 1465h.1M10 1510h.1M18 1540h.1M225 1550h.1M996 1474h.1M960 1520h.1M1478 1553h.1"/>
</g>
<g transform="translate(1280 0) scale(.81633 .45918)">
<path class="w" d="M1282 53h.1M1303 92h.1M811 154h.1M961 154h.1M562 274h.1M749 296h.1M909 407h.1M904 486h.1M1043 485h.1M427 638h.1M360 757h.1M1089 773h.1M766 912h.1M1322 914h.1M839 1093h.1M844 1181h.1M1058 1360h.1M1042 1452h.1M1050 1476h.1M32 580h.1"/>
<path class="d" d="M132 109h.1M457 38h.1M829 110h.1M1025 56h.1M1125 9h.1M1181 6h.1M1282 53h.1M1241 83h.1M1303 92h.1M472 149h.1M254 219h.1M562 274h.1M596 273h.1M811 154h.1M866 254h.1M961 154h.1M972 264h.1M1098 284h.1M749 296h.1M135 343h.1M267 343h.1M405 299h.1M473 417h.1M528 345h.1M909 407h.1M1110 394h.1M1107 435h.1M1247 393h.1M360 454h.1M653 478h.1M835 453h.1M904 486h.1M985 497h.1M1043 485h.1M32 580h.1M172 593h.1M274 685h.1M427 638h.1M570 612h.1M613 685h.1M789 676h.1M878 731h.1M1159 588h.1M1101 700h.1M1285 703h.1M1504 663h.1M581 740h.1M787 737h.1M41 787h.1M50 802h.1M231 798h.1M312 782h.1M345 797h.1M360 757h.1M1119 752h.1M1089 773h.1M1069 753h.1M103 940h.1M50 993h.1M374 970h.1M394 968h.1M554 951h.1M589 949h.1M766 912h.1M711 1022h.1M643 1031h.1M897 972h.1M1103 1013h.1M1322 914h.1M1352 958h.1M1281 990h.1M1552 942h.1M90 1126h.1M176 1086h.1M298 1056h.1M263 1108h.1M603 1068h.1M626 1102h.1M839 1093h.1M779 1187h.1M844 1181h.1M876 1214h.1M1415 1208h.1M1545 1232h.1M52 1393h.1M5 1465h.1M252 1338h.1M330 1448h.1M426 1474h.1M587 1366h.1M642 1425h.1M680 1459h.1M785 1386h.1M858 1360h.1M895 1350h.1M914 1345h.1M1058 1360h.1M1042 1452h.1M1050 1476h.1M1205 1451h.1M1406 1368h.1M1556 1400h.1M174 1487h.1M107 1530h.1M177 1548h.1M264 1552h.1M1252 1535h.1M1378 1553h.1M866 1565h.1"/>
</g>
<g transform="translate(2560 0) scale(.81633 .45918)">
<path class="w" d="M101 96h.1M906 40h.1M1487 125h.1M244 183h.1M841 200h.1M1250 183h.1M256 461h.1M473 461h.1M668 585h.1M442 686h.1M970 685h.1M1320 382h.1M38 539h.1M284 1036h.1M1308 984h.1M900 1106h.1M660 1180h.1M648 1313h.1M111 1353h.1M806 1450h.1M1121 1415h.1M1525 540h.1M1533 816h.1"/>
<path class="d" d="M101 96h.1M291 79h.1M362 124h.1M400 119h.1M468 40h.1M642 121h.1M720 88h.1M906 40h.1M1379 41h.1M1487 125h.1M244 183h.1M347 265h.1M579 174h.1M640 191h.1M688 150h.1M841 200h.1M1250 183h.1M1265 190h.1M1203 247h.1M1134 287h.1M1310 144h.1M1401 156h.1M1377 237h.1M1515 190h.1M1540 270h.1M1562 262h.1M226 356h.1M286 430h.1M256 461h.1M452 441h.1M473 461h.1M770 560h.1M1030 377h.1M1111 395h.1M1320 382h.1M1142 517h.1M1380 498h.1M1437 517h.1M1525 540h.1M38 539h.1M668 585h.1M301 601h.1M633 604h.1M442 686h.1M770 649h.1M966 727h.1M970 685h.1M1085 662h.1M1096 712h.1M1211 637h.1M1472 602h.1M510 746h.1M491 783h.1M185 840h.1M331 782h.1M810 830h.1M785 868h.1M1050 865h.1M1392 805h.1M1533 816h.1M595 930h.1M502 972h.1M284 1000h.1M332 1027h.1M284 1036h.1M885 940h.1M1061 969h.1M1122 957h.1M1306 940h.1M1308 984h.1M1433 1002h.1M922 1040h.1M900 1106h.1M470 1149h.1M613 1155h.1M1166 1112h.1M1265 1138h.1M1336 1045h.1M1358 1027h.1M1381 1057h.1M1380 1085h.1M1485 1120h.1M10 1159h.1M199 1270h.1M283 1260h.1M346 1250h.1M660 1180h.1M648 1313h.1M880 1255h.1M1240 1275h.1M1252 1290h.1M1389 1302h.1M1374 1330h.1M111 1353h.1M115 1404h.1M258 1455h.1M330 1443h.1M603 1385h.1M562 1421h.1M520 1442h.1M721 1351h.1M806 1450h.1M838 1420h.1M1102 1331h.1M1121 1415h.1M1166 1383h.1M767 1502h.1M1040 1512h.1M1094 1545h.1M1157 1510h.1M1128 1556h.1M1378 1527h.1M1396 1517h.1"/>
</g>
<g transform="translate(0 720) scale(.81633 .45918)">
<path class="w" d="M28 156h.1M1493 146h.1M45 229h.1M514 252h.1M983 337h.1M1288 380h.1M1543 369h.1M402 617h.1M669 539h.1M916 577h.1M1233 531h.1M672 832h.1M1097 829h.1M1464 874h.1M389 1046h.1M1178 1035h.1M386 1145h.1M839 1100h.1M738 1202h.1M362 1238h.1M403 1236h.1M536 1322h.1M659 1333h.1M969 1472h.1M1299 1479h.1M1385 1511h.1M462 1535h.1"/>
<path class="d" d="M722 34h.1M788 45h.1M863 40h.1M1221 25h.1M131 82h.1M153 122h.1M194 181h.1M28 156h.1M517 124h.1M578 57h.1M639 116h.1M632 145h.1M1419 135h.1M1493 146h.1M939 186h.1M1535 197h.1M45 229h.1M294 288h.1M514 252h.1M983 337h.1M1265 269h.1M1553 290h.1M45 344h.1M12 396h.1M294 420h.1M474 364h.1M54 484h.1M1288 380h.1M1262 402h.1M1543 369h.1M32 587h.1M245 594h.1M386 506h.1M390 550h.1M402 617h.1M505 597h.1M669 539h.1M988 539h.1M916 577h.1M1070 535h.1M1233 531h.1M1176 622h.1M11 737h.1M339 648h.1M430 677h.1M519 668h.1M544 691h.1M615 766h.1M604 781h.1M1185 705h.1M1212 683h.1M1452 684h.1M1466 671h.1M97 926h.1M158 807h.1M336 832h.1M672 832h.1M852 909h.1M978 808h.1M1097 829h.1M1196 900h.1M1396 890h.1M1464 874h.1M389 1046h.1M247 1073h.1M682 984h.1M646 1012h.1M793 997h.1M767 1061h.1M917 946h.1M1034 997h.1M1178 1035h.1M1439 1041h.1M1557 969h.1M62 1125h.1M152 1148h.1M186 1141h.1M267 1197h.1M386 1145h.1M472 1107h.1M553 1173h.1M575 1148h.1M679 1163h.1M839 1100h.1M738 1202h.1M822 1196h.1M1029 1148h.1M1510 1257h.1M1568 1165h.1M27 1318h.1M5 1367h.1M362 1238h.1M403 1236h.1M536 1322h.1M608 1282h.1M615 1308h.1M659 1333h.1M727 1313h.1M522 1466h.1M969 1472h.1M1144 1390h.1M1034 1460h.1M1299 1479h.1M1385 1511h.1M462 1535h.1"/>
</g>
<g transform="translate(1280 720) scale(.81633 .45918)">
<path class="w" d="M561 34h.1M775 22h.1M1035 59h.1M1546 152h.1M219 162h.1M1291 222h.1M714 340h.1M30 388h.1M1116 587h.1M1289 630h.1M1260 742h.1M1352 779h.1M576 565h.1M824 562h.1M298 673h.1M457 878h.1M490 866h.1M710 833h.1M712 883h.1M255 950h.1M920 1030h.1M956 1180h.1M122 1298h.1M188 1283h.1M1424 1282h.1M1495 1282h.1M878 1364h.1M1404 1462h.1M812 1497h.1M620 1539h.1M1562 878h.1M973 536h.1M1071 514h.1"/>
<path class="d" d="M188 24h.1M561 34h.1M775 22h.1M790 27h.1M867 4h.1M1015 19h.1M1035 59h.1M1460 13h.1M1517 3h.1M333 60h.1M347 55h.1M464 106h.1M433 133h.1M219 162h.1M37 131h.1M1287 112h.1M1546 152h.1M199 207h.1M281 220h.1M336 232h.1M575 214h.1M835 204h.1M982 245h.1M1108 303h.1M1291 222h.1M1300 226h.1M1300 328h.1M54 295h.1M345 325h.1M30 388h.1M211 363h.1M392 456h.1M541 486h.1M714 340h.1M707 377h.1M849 428h.1M830 457h.1M1012 474h.1M1035 474h.1M1510 423h.1M576 565h.1M722 600h.1M824 562h.1M973 536h.1M1071 514h.1M1116 587h.1M1173 640h.1M1289 630h.1M1418 580h.1M1487 614h.1M1529 535h.1M298 673h.1M439 745h.1M631 665h.1M1012 667h.1M1260 742h.1M1352 779h.1M1414 690h.1M114 854h.1M77 934h.1M457 878h.1M490 866h.1M643 822h.1M710 833h.1M712 883h.1M744 860h.1M754 893h.1M939 922h.1M1115 862h.1M1298 866h.1M1360 916h.1M1562 878h.1M17 997h.1M255 950h.1M199 1028h.1M558 982h.1M530 1073h.1M920 1030h.1M1000 1080h.1M5 1165h.1M486 1145h.1M673 1185h.1M651 1207h.1M702 1211h.1M956 1180h.1M974 1163h.1M1079 1151h.1M1313 1170h.1M1507 1221h.1M55 1275h.1M112 1333h.1M122 1298h.1M131 1358h.1M168 1350h.1M188 1283h.1M302 1241h.1M420 1251h.1M744 1273h.1M698 1342h.1M793 1357h.1M926 1266h.1M878 1364h.1M1424 1282h.1M1495 1282h.1M234 1387h.1M169 1510h.1M663 1464h.1M812 1497h.1M872 1498h.1M881 1528h.1M1196 1393h.1M1170 1465h.1M1404 1462h.1M1475 1467h.1M620 1539h.1M1076 1565h.1M1270 1540h.1M1282 1545h.1"/>
</g>
<g transform="translate(2560 720) scale(.81633 .45918)">
<path class="w" d="M507 186h.1M629 121h.1M367 239h.1M1301 302h.1M427 357h.1M334 457h.1M824 357h.1M1470 367h.1M371 540h.1M866 490h.1M840 577h.1M976 523h.1M1293 511h.1M1326 567h.1M1045 680h.1M1120 689h.1M1394 683h.1M1408 765h.1M0 878h.1M1545 917h.1M388 1006h.1M529 996h.1M611 1057h.1M1130 1104h.1M425 1240h.1M456 1239h.1M1106 1329h.1M1145 1432h.1"/>
<path class="d" d="M17 40h.1M172 120h.1M443 132h.1M507 186h.1M678 45h.1M658 77h.1M629 121h.1M813 191h.1M896 91h.1M1140 163h.1M1292 149h.1M1385 176h.1M1414 56h.1M8 242h.1M367 221h.1M367 239h.1M529 236h.1M941 209h.1M903 299h.1M1301 302h.1M1489 293h.1M87 391h.1M113 465h.1M334 457h.1M427 357h.1M768 337h.1M824 357h.1M786 435h.1M1007 404h.1M987 462h.1M1129 350h.1M1470 367h.1M37 551h.1M176 543h.1M371 540h.1M512 544h.1M744 612h.1M866 490h.1M840 577h.1M976 523h.1M1148 528h.1M1293 511h.1M1326 567h.1M1322 580h.1M1444 526h.1M177 697h.1M100 742h.1M137 750h.1M529 688h.1M476 753h.1M785 698h.1M1045 680h.1M1120 689h.1M1394 683h.1M1408 765h.1M1500 680h.1M1503 700h.1M668 801h.1M717 796h.1M795 847h.1M751 895h.1M846 909h.1M1112 922h.1M334 870h.1M1318 880h.1M1370 901h.1M1545 917h.1M0 878h.1M10 969h.1M53 1071h.1M186 970h.1M194 985h.1M167 1036h.1M238 1065h.1M380 990h.1M388 1006h.1M529 996h.1M611 1057h.1M881 975h.1M1067 989h.1M1157 1025h.1M1190 1027h.1M26 1117h.1M763 1169h.1M943 1180h.1M1130 1104h.1M1143 1177h.1M370 1253h.1M293 1328h.1M351 1320h.1M425 1240h.1M456 1239h.1M491 1264h.1M515 1313h.1M823 1290h.1M1007 1221h.1M1088 1234h.1M1106 1329h.1M1218 1340h.1M1275 1302h.1M1535 1285h.1M1523 1346h.1M1543 1367h.1M393 1474h.1M420 1480h.1M716 1434h.1M879 1455h.1M909 1516h.1M1117 1441h.1M1145 1432h.1M1262 1380h.1M1325 1453h.1M1296 1493h.1M1450 1480h.1M1540 1466h.1M110 1557h.1M1090 1568h.1M1264 1565h.1"/>
</g>
<g transform="translate(0 1440) scale(.81633 .45918)">
<path class="w" d="M473 55h.1M378 105h.1M316 158h.1M765 121h.1M963 116h.1M1257 118h.1M1208 194h.1M939 332h.1M378 530h.1M17 594h.1M536 616h.1M760 551h.1M1527 545h.1M215 794h.1M622 703h.1M330 855h.1M563 1075h.1M732 1105h.1M1099 995h.1M1317 1118h.1M1373 1100h.1M373 1236h.1M322 1420h.1M1385 1498h.1M1440 396h.1M1170 1465h.1M1477 1531h.1"/>
<path class="d" d="M300 36h.1M320 36h.1M473 55h.1M937 62h.1M967 86h.1M1546 56h.1M186 116h.1M378 105h.1M316 158h.1M507 107h.1M510 182h.1M520 224h.1M684 117h.1M765 121h.1M865 100h.1M826 156h.1M828 212h.1M873 231h.1M963 116h.1M1257 118h.1M1238 158h.1M1208 194h.1M1532 160h.1M1551 220h.1M455 288h.1M611 322h.1M709 337h.1M939 332h.1M46 455h.1M152 405h.1M378 530h.1M617 428h.1M695 408h.1M1091 407h.1M1045 502h.1M1440 396h.1M1327 518h.1M17 594h.1M95 678h.1M476 575h.1M497 557h.1M536 616h.1M619 615h.1M760 551h.1M740 576h.1M1241 655h.1M1401 628h.1M1430 658h.1M1527 545h.1M1566 594h.1M58 766h.1M215 794h.1M444 826h.1M622 703h.1M1057 787h.1M1138 778h.1M1317 727h.1M330 855h.1M343 843h.1M486 915h.1M472 980h.1M955 847h.1M1264 955h.1M1306 968h.1M1184 965h.1M718 1032h.1M563 1075h.1M732 1105h.1M1099 995h.1M1107 1015h.1M1230 1085h.1M1350 1103h.1M1373 1100h.1M1317 1118h.1M57 1185h.1M77 1187h.1M133 1203h.1M7 1213h.1M304 1156h.1M373 1236h.1M643 1188h.1M700 1210h.1M973 1189h.1M1079 1215h.1M1450 1169h.1M454 1270h.1M45 1407h.1M199 1361h.1M447 1370h.1M322 1420h.1M1056 1306h.1M1429 1370h.1M1451 1400h.1M1472 1311h.1M131 1460h.1M25 1522h.1M162 1522h.1M446 1432h.1M593 1548h.1M638 1550h.1M1170 1465h.1M1382 1448h.1M1385 1498h.1M1477 1531h.1M1298 1550h.1"/>
</g>
<g>
<path class="w" d="M1480 1560h.1M2340 1520h.1M3160 1595h.1M2580 1440h.1M2950 1660h.1M3400 1770h.1M1700 1840h.1M2450 1905h.1M3520 2000h.1M2210 2040h.1M1960 2115h.1"/>
<path class="d" d="M1370 1450h.1M1610 1470h.1M1870 1432h.1M2200 1460h.1M2580 1440h.1M2930 1475h.1M3180 1430h.1M3420 1462h.1M3690 1445h.1M1695 1438h.1M1708 1445h.1M1735 1470h.1M1935 1425h.1M1990 1470h.1M2330 1433h.1M2418 1472h.1M2700 1440h.1M2725 1478h.1M2775 1470h.1M3070 1465h.1M3088 1477h.1M3015 1430h.1M1480 1560h.1M1960 1505h.1M2340 1520h.1M2700 1530h.1M3200 1500h.1M3650 1540h.1M1698 1500h.1M2230 1497h.1M2175 1535h.1M2412 1535h.1M2425 1545h.1M2475 1500h.1M2830 1538h.1M3075 1495h.1M3090 1510h.1M3015 1540h.1M3380 1500h.1M3535 1540h.1M1390 1590h.1M1850 1575h.1M2450 1600h.1M2810 1570h.1M3160 1595h.1M3640 1580h.1M1700 1605h.1M2345 1565h.1M2530 1563h.1M2548 1572h.1M2580 1605h.1M2900 1570h.1M3050 1600h.1M3250 1562h.1M3262 1575h.1M3305 1605h.1M3500 1565h.1M3740 1610h.1M1500 1650h.1M1890 1665h.1M2220 1640h.1M2440 1670h.1M2700 1648h.1M2950 1660h.1M3300 1640h.1M3540 1672h.1M3780 1650h.1M1395 1630h.1M1745 1672h.1M2060 1632h.1M2050 1670h.1M2590 1638h.1M3020 1640h.1M3185 1675h.1M3380 1668h.1M3710 1632h.1M1600 1720h.1M1990 1700h.1M2180 1730h.1M2560 1710h.1M2820 1735h.1M3150 1705h.1M3410 1740h.1M3630 1715h.1M1455 1700h.1M1690 1698h.1M1702 1712h.1M1750 1740h.1M2055 1740h.1M2345 1700h.1M2360 1738h.1M2660 1700h.1M3045 1742h.1M3305 1735h.1M3322 1745h.1M3730 1698h.1M3745 1712h.1M3800 1740h.1M1470 1790h.1M1720 1775h.1M2430 1800h.1M2710 1780h.1M3040 1795h.1M3400 1770h.1M3790 1800h.1M1330 1765h.1M1342 1778h.1M1400 1808h.1M1820 1770h.1M2090 1775h.1M2540 1805h.1M2940 1768h.1M2960 1800h.1M3250 1800h.1M3262 1812h.1M3612 1765h.1M3625 1775h.1M3680 1810h.1M1490 1860h.1M1700 1840h.1M2080 1870h.1M2580 1850h.1M2830 1835h.1M3040 1870h.1M3300 1850h.1M3530 1845h.1M3770 1870h.1M1395 1868h.1M1410 1880h.1M1812 1868h.1M1825 1878h.1M1870 1835h.1M1935 1838h.1M1990 1875h.1M2420 1875h.1M2900 1840h.1M1380 1920h.1M1740 1915h.1M1950 1930h.1M2450 1905h.1M3060 1925h.1M3400 1915h.1M2700 1960h.1M3640 1950h.1M3760 1990h.1M1640 1900h.1M2050 1945h.1M2290 1942h.1M2305 1952h.1M2350 1905h.1M2535 1902h.1M2590 1945h.1M2900 1945h.1M3310 1902h.1M1610 1990h.1M1850 2000h.1M2320 1975h.1M2560 2010h.1M3290 1985h.1M3520 2000h.1M1455 1970h.1M1515 2005h.1M1528 2015h.1M1745 1968h.1M2095 2010h.1M2172 1965h.1M2185 1975h.1M2235 2010h.1M2900 1972h.1M3140 2010h.1M1390 2060h.1M1710 2045h.1M1970 2070h.1M2210 2040h.1M2450 2065h.1M2920 2050h.1M3170 2068h.1M3390 2040h.1M3660 2070h.1M1640 2080h.1M2055 2035h.1M2710 2040h.1M2780 2080h.1M3255 2040h.1M3310 2078h.1M1500 2125h.1M1730 2140h.1M1960 2115h.1M2200 2130h.1M2590 2120h.1M2800 2140h.1M3050 2115h.1M3640 2130h.1M1340 2105h.1M1870 2145h.1M2295 2105h.1M2710 2108h.1M3140 2145h.1M3430 2105h.1M3545 2102h.1M3558 2112h.1M3500 2140h.1"/>
</g>
</g>
</svg>
